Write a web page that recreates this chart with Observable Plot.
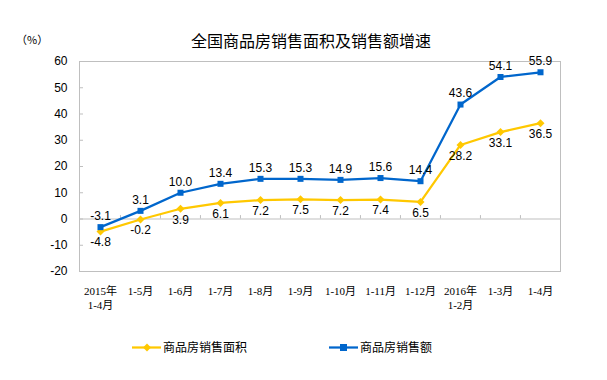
<!DOCTYPE html>
<html>
<head>
<meta charset="utf-8">
<script src="https://cdn.jsdelivr.net/npm/d3@7"></script>
<script src="https://cdn.jsdelivr.net/npm/@observablehq/plot@0.6"></script>
<style>
  html, body { margin: 0; padding: 0; background: #fff; }
  #wrap { position: relative; width: 607px; height: 380px; overflow: hidden; }
  #chart { position: absolute; left: 0; top: 0; }
  #title { position: absolute; left: 0; top: 30px; width: 622px; text-align: center;
    font-family: "Noto Sans CJK SC", sans-serif; font-size: 16px; line-height: 20px; color: #000; }
  #unit { position: absolute; left: 16px; top: 31px; font-family: "Noto Sans CJK SC", sans-serif;
    font-size: 11px; line-height: 16px; color: #000; }
  .leg { position: absolute; top: 339px; display: flex; align-items: center;
    font-family: "Noto Sans CJK SC", sans-serif; font-size: 12px; line-height: 16px; color: #000; }
  .leg svg { margin-right: 2px; }
</style>
</head>
<body>
<div id="wrap">
  <div id="chart"></div>
  <div id="title"></div>
  <div id="unit"></div>
  <div class="leg" id="leg1" style="left:132px"></div>
  <div class="leg" id="leg2" style="left:329px"></div>
</div>
<script>
const categories = ["2015年1-4月", "1-5月", "1-6月", "1-7月", "1-8月", "1-9月", "1-10月", "1-11月", "1-12月", "2016年1-2月", "1-3月", "1-4月"];
const tickLabels = ["2015年\n1-4月", "1-5月", "1-6月", "1-7月", "1-8月", "1-9月", "1-10月", "1-11月", "1-12月", "2016年\n1-2月", "1-3月", "1-4月"];
const areaGrowth = [-4.8, -0.2, 3.9, 6.1, 7.2, 7.5, 7.2, 7.4, 6.5, 28.2, 33.1, 36.5];
const salesGrowth = [-3.1, 3.1, 10.0, 13.4, 15.3, 15.3, 14.9, 15.6, 14.4, 43.6, 54.1, 55.9];
const yTicks = [-20, -10, 0, 10, 20, 30, 40, 50, 60];
const seriesNames = ["商品房销售面积", "商品房销售额"];
const titleText = "全国商品房销售面积及销售额增速";
const unitText = "（%）";

const colorArea = "#FFC800";
const colorSales = "#0066CC";

const areaData = categories.map((c, i) => ({cat: c, v: areaGrowth[i]}));
const salesData = categories.map((c, i) => ({cat: c, v: salesGrowth[i]}));

const W = 607, H = 380, mL = 79, mR = 47, mT = 61, mB = 109;
const step = (W - mL - mR) / categories.length;
const labelOf = new Map(categories.map((c, i) => [c, tickLabels[i]]));
const sansFont = "'Liberation Sans', Arial, sans-serif";
const xFont = "'Liberation Serif', 'Noto Sans CJK SC', serif";

const chart = Plot.plot({
  width: W, height: H,
  marginLeft: mL, marginRight: mR, marginTop: mT, marginBottom: mB,
  style: {background: "transparent", fontFamily: sansFont, color: "#000"},
  x: {type: "point", domain: categories, padding: 0.5, align: 0.5, label: null},
  y: {domain: [-20, 60], label: null},
  marks: [
    Plot.frame({stroke: "#BFBFBF", strokeWidth: 1}),
    Plot.ruleY([0], {stroke: "#BFBFBF", strokeWidth: 1}),
    Plot.ruleX(categories.slice(1), {x: d => d, y1: 0, y2: 1.3, dx: -step / 2, stroke: "#BFBFBF"}),
    Plot.axisY({ticks: yTicks, tickSize: 0, tickPadding: 12, fontSize: 12, fill: "#000", label: null, tickFormat: d => String(d)}),
    Plot.axisY({ticks: yTicks.slice(1, -1), tickSize: -4, label: null, tickFormat: () => "", stroke: "#BFBFBF"}),
    Plot.axisX({tickSize: 0, tickPadding: 14, fontSize: 11, fontFamily: xFont, fill: "#000", label: null,
      lineHeight: 1.27, tickFormat: d => labelOf.get(d)}),
    Plot.line(areaData, {x: "cat", y: "v", stroke: colorArea, strokeWidth: 2.25}),
    Plot.line(salesData, {x: "cat", y: "v", stroke: colorSales, strokeWidth: 2.25}),
    Plot.dot(areaData, {x: "cat", y: "v", symbol: "diamond2", r: 3.6, fill: colorArea, stroke: "none"}),
    Plot.dot(salesData, {x: "cat", y: "v", symbol: "square", r: 3.4, fill: colorSales, stroke: "none"}),
    Plot.text(areaData, {x: "cat", y: "v", text: d => d.v.toFixed(1), dy: 11, fontSize: 12, fill: "#000"}),
    Plot.text(salesData, {x: "cat", y: "v", text: d => d.v.toFixed(1), dy: -11, fontSize: 12, fill: "#000"})
  ]
});
document.getElementById("chart").appendChild(chart);
document.getElementById("title").textContent = titleText;
document.getElementById("unit").textContent = unitText;

function legendItem(el, name, color, shape) {
  const marker = shape === "square"
    ? `<rect x="11" y="4" width="7" height="7" fill="${color}"/>`
    : `<path d="M15,3.5 L19,7.5 L15,11.5 L11,7.5 Z" fill="${color}"/>`;
  el.innerHTML = `<svg width="29" height="15"><line x1="0" y1="7.5" x2="29" y2="7.5" stroke="${color}" stroke-width="2.25"/>${marker}</svg><span>${name}</span>`;
}
legendItem(document.getElementById("leg1"), seriesNames[0], colorArea, "diamond");
legendItem(document.getElementById("leg2"), seriesNames[1], colorSales, "square");
</script>
</body>
</html>
